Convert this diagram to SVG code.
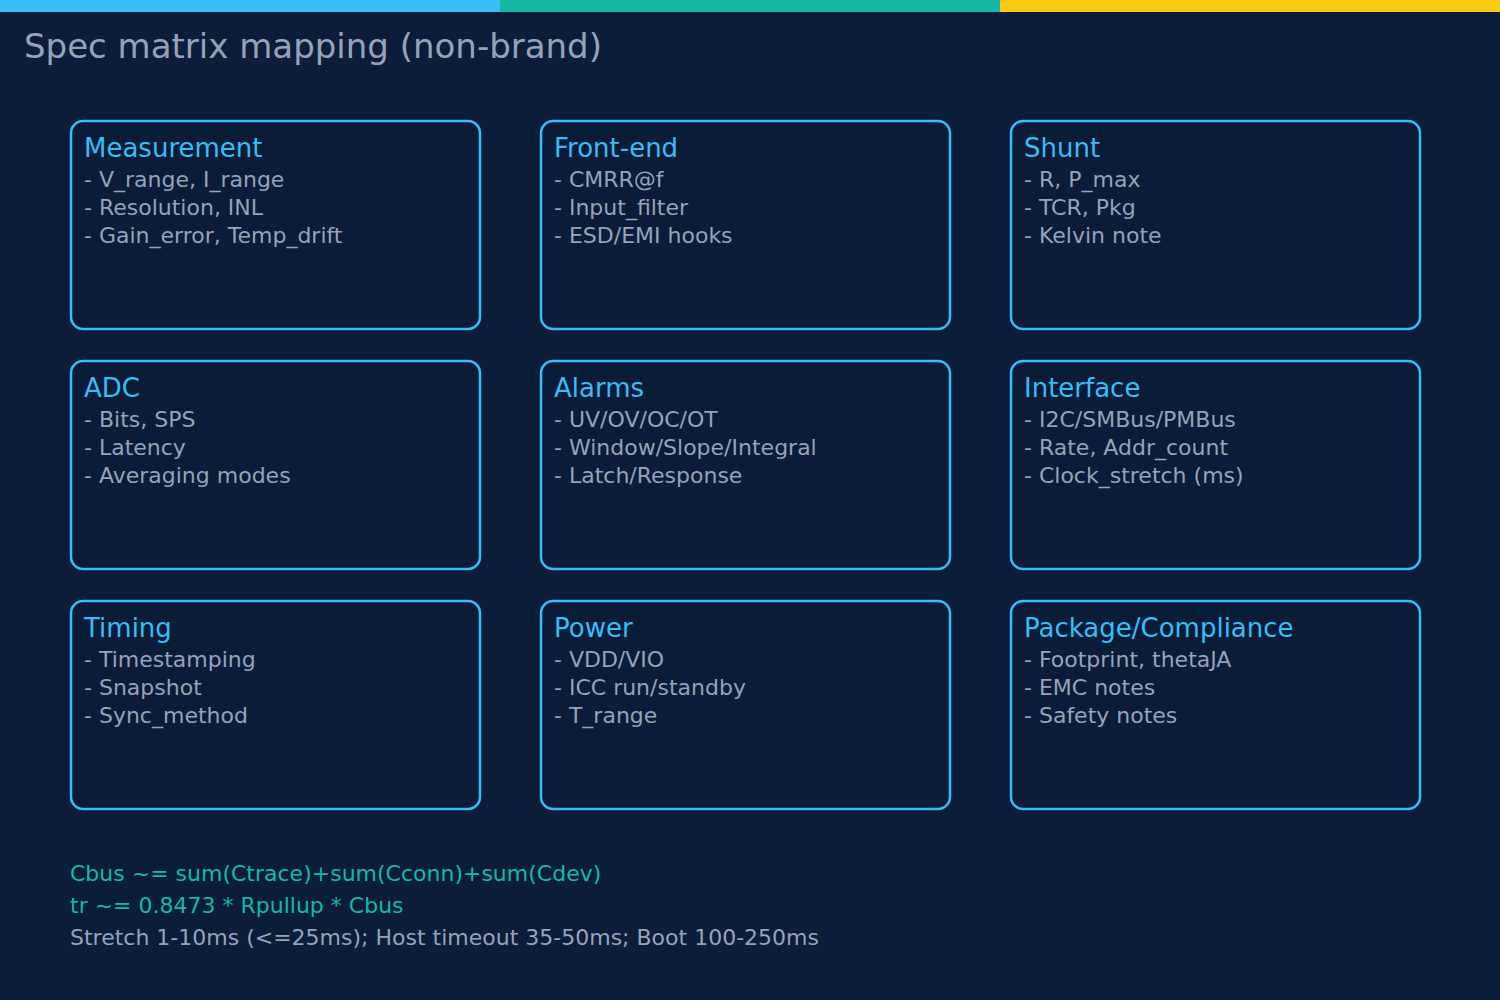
<svg xmlns="http://www.w3.org/2000/svg" width="1500" height="1000" viewBox="0 0 1500 1000">
<style>
.box{fill:#0a1c37;stroke:#38bdf8;stroke-width:2.5}
.h{font-family:"DejaVu Sans",sans-serif;font-size:26px;fill:#38bdf8}
.t{font-family:"DejaVu Sans",sans-serif;font-size:22px;fill:#94a3b8}
.f{font-family:"DejaVu Sans",sans-serif;font-size:22px;fill:#14b8a6}
</style>
<rect width="1500" height="1000" fill="#0b1d39"/>
<rect x="0" y="0" width="500" height="12" fill="#38bdf8"/>
<rect x="500" y="0" width="500" height="12" fill="#14b8a6"/>
<rect x="1000" y="0" width="500" height="12" fill="#facc15"/>
<text x="24" y="58" font-family="DejaVu Sans, sans-serif" font-size="34" fill="#94a3b8">Spec matrix mapping (non-brand)</text>
<g id="measurement"><rect class="box" x="71" y="121" width="409" height="208" rx="12"/><text class="h" x="84" y="157">Measurement</text><text class="t" x="84" y="187">- V_range, I_range</text><text class="t" x="84" y="215">- Resolution, INL</text><text class="t" x="84" y="243">- Gain_error, Temp_drift</text></g>
<g id="frontend"><rect class="box" x="541" y="121" width="409" height="208" rx="12"/><text class="h" x="554" y="157">Front-end</text><text class="t" x="554" y="187">- CMRR@f</text><text class="t" x="554" y="215">- Input_filter</text><text class="t" x="554" y="243">- ESD/EMI hooks</text></g>
<g id="shunt"><rect class="box" x="1011" y="121" width="409" height="208" rx="12"/><text class="h" x="1024" y="157">Shunt</text><text class="t" x="1024" y="187">- R, P_max</text><text class="t" x="1024" y="215">- TCR, Pkg</text><text class="t" x="1024" y="243">- Kelvin note</text></g>
<g id="adc"><rect class="box" x="71" y="361" width="409" height="208" rx="12"/><text class="h" x="84" y="397">ADC</text><text class="t" x="84" y="427">- Bits, SPS</text><text class="t" x="84" y="455">- Latency</text><text class="t" x="84" y="483">- Averaging modes</text></g>
<g id="alarms"><rect class="box" x="541" y="361" width="409" height="208" rx="12"/><text class="h" x="554" y="397">Alarms</text><text class="t" x="554" y="427">- UV/OV/OC/OT</text><text class="t" x="554" y="455">- Window/Slope/Integral</text><text class="t" x="554" y="483">- Latch/Response</text></g>
<g id="interface"><rect class="box" x="1011" y="361" width="409" height="208" rx="12"/><text class="h" x="1024" y="397">Interface</text><text class="t" x="1024" y="427">- I2C/SMBus/PMBus</text><text class="t" x="1024" y="455">- Rate, Addr_count</text><text class="t" x="1024" y="483">- Clock_stretch (ms)</text></g>
<g id="timing"><rect class="box" x="71" y="601" width="409" height="208" rx="12"/><text class="h" x="84" y="637">Timing</text><text class="t" x="84" y="667">- Timestamping</text><text class="t" x="84" y="695">- Snapshot</text><text class="t" x="84" y="723">- Sync_method</text></g>
<g id="power"><rect class="box" x="541" y="601" width="409" height="208" rx="12"/><text class="h" x="554" y="637">Power</text><text class="t" x="554" y="667">- VDD/VIO</text><text class="t" x="554" y="695">- ICC run/standby</text><text class="t" x="554" y="723">- T_range</text></g>
<g id="package"><rect class="box" x="1011" y="601" width="409" height="208" rx="12"/><text class="h" x="1024" y="637">Package/Compliance</text><text class="t" x="1024" y="667">- Footprint, thetaJA</text><text class="t" x="1024" y="695">- EMC notes</text><text class="t" x="1024" y="723">- Safety notes</text></g>
<g id="connectors"></g>
<text class="f" x="70" y="881">Cbus ~= sum(Ctrace)+sum(Cconn)+sum(Cdev)</text>
<text class="f" x="70" y="913">tr ~= 0.8473 * Rpullup * Cbus</text>
<text class="t" x="70" y="945">Stretch 1-10ms (&lt;=25ms); Host timeout 35-50ms; Boot 100-250ms</text>
</svg>
